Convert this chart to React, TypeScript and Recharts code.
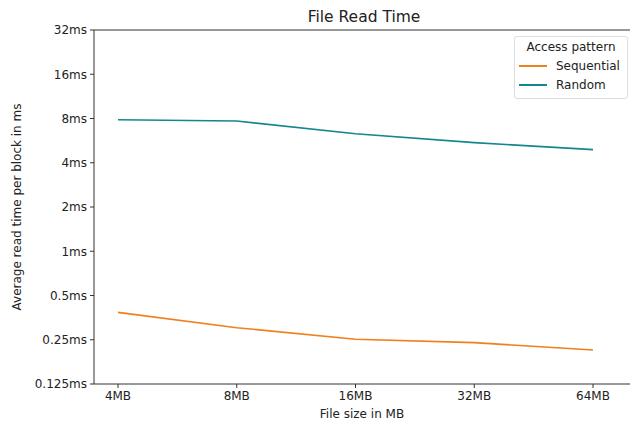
import { Line, LineChart, ReferenceLine, XAxis, YAxis } from "recharts";

const fileSizes = ["4MB", "8MB", "16MB", "32MB", "64MB"];
const sequentialMs = [0.384, 0.302, 0.252, 0.239, 0.213];
const randomMs = [7.85, 7.69, 6.3, 5.48, 4.91];
const yTicks = [0.125, 0.25, 0.5, 1, 2, 4, 8, 16, 32];

const data = fileSizes.map((size, i) => ({
  size,
  sequential: sequentialMs[i],
  random: randomMs[i],
}));

const font = "'DejaVu Sans', sans-serif";
const axisColor = "#333";
const tickStyle = { fill: "#222", fontSize: 12, fontFamily: font };

function LegendBox(): JSX.Element {
  const items = [
    { label: "Sequential", color: "#f07f1c" },
    { label: "Random", color: "#13878f" },
  ];
  return (
    <div
      style={{
        position: "absolute",
        left: 514,
        top: 36,
        border: "1px solid #ddd",
        borderRadius: 3,
        background: "rgba(255,255,255,0.8)",
        fontFamily: font,
        fontSize: 12,
        color: "#222",
        padding: "3px 4px 4px 4px",
        boxSizing: "border-box",
        width: 114,
      }}
    >
      <div style={{ textAlign: "center", marginBottom: 2 }}>Access pattern</div>
      {items.map((it) => (
        <div key={it.label} style={{ display: "flex", alignItems: "center", height: 19 }}>
          <span style={{ display: "inline-block", width: 28, height: 2, background: it.color, marginRight: 9 }} />
          <span>{it.label}</span>
        </div>
      ))}
    </div>
  );
}

export default function App(): JSX.Element {
  return (
    <div style={{ position: "absolute", left: 0, top: 0, width: 630, height: 424, background: "#fff" }}>
      <LineChart width={630} height={424} data={data} margin={{ top: 30, right: 0, left: 0, bottom: 0 }}>
        <XAxis
          dataKey="size"
          padding={{ left: 24, right: 37 }}
          height={40}
          stroke={axisColor}
          tick={tickStyle}
          tickSize={4}
          tickMargin={3}
        />
        <YAxis
          scale="log"
          domain={[0.125, 32]}
          ticks={yTicks}
          allowDataOverflow
          width={94}
          stroke={axisColor}
          tick={tickStyle}
          tickSize={4}
          tickMargin={3}
          tickFormatter={(v) => `${v}ms`}
          interval={0}
        />
        <ReferenceLine y={32} stroke={axisColor} />
        <Line dataKey="sequential" stroke="#f07f1c" strokeWidth={1.6} dot={false} isAnimationActive={false} />
        <Line dataKey="random" stroke="#13878f" strokeWidth={1.6} dot={false} isAnimationActive={false} />
        <text x={364} y={22} textAnchor="middle" fontFamily={font} fontSize={15.5} fill="#222">
          File Read Time
        </text>
        <text x={362} y={418} textAnchor="middle" fontFamily={font} fontSize={12} fill="#222">
          File size in MB
        </text>
        <text
          x={21}
          y={207}
          textAnchor="middle"
          fontFamily={font}
          fontSize={12}
          fill="#222"
          transform="rotate(-90 21 207)"
        >
          Average read time per block in ms
        </text>
      </LineChart>
      <LegendBox />
    </div>
  );
}
